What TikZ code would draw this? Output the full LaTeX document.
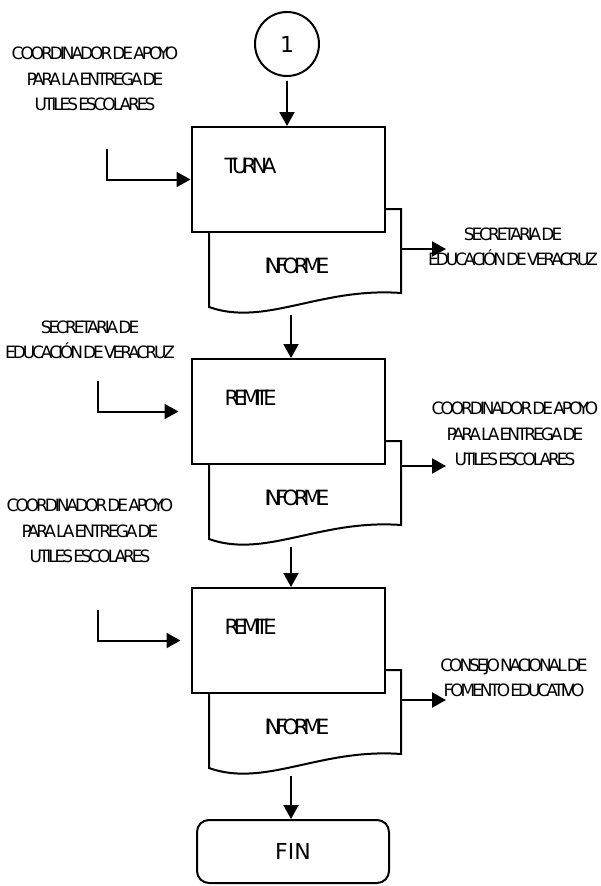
\documentclass[tikz,border=0pt]{standalone}
\usepackage{fontspec}
\setmainfont{DejaVu Sans}
\newfontfamily\tightfont[LetterSpace=-18, WordSpace=0.05]{DejaVu Sans}
\newfontfamily\boxfont[LetterSpace=-25]{DejaVu Sans}
\usetikzlibrary{arrows.meta}

\begin{document}
\begin{tikzpicture}[x=1pt, y=-1pt, line join=miter,
    flow/.style={line width=2pt, -{Triangle[length=14pt, width=15pt]}},
    stage/.style={draw, line width=2pt, fill=white, minimum width=193pt, minimum height=105pt},
    paper/.style={draw, line width=2pt, fill=white},
    steptext/.style={font=\boxfont\fontsize{21}{25}\selectfont, anchor=west},
    who/.style={font=\tightfont\fontsize{17}{25.5}\selectfont, align=center}
]

    % --- Page frame ---
    \useasboundingbox (0,0) rectangle (600,886);

    % --- Connector 1 ---
    \node[draw, circle, line width=2pt, minimum size=64pt,
          font=\fontsize{22}{26}\selectfont] (conn) at (287,44) {1};

    % --- Stages: document behind, step box on top ---
    \foreach \n/\t/\w/\o/\ix/\g in {
        1/127/TURNA/249/107/0,
        2/359/REMITE/466/98/12,
        3/588/REMITE/700/98/10%
    } {%
        \draw[paper] (209,{\t+82}) -- (209,{\t+180})
            .. controls (265,{\t+200}) and (320,{\t+160}) .. (401,{\t+166})
            -- (401,{\t+82}) -- cycle;
        \node[stage] (box\n) at (288,{\t+52.5}) {};
        \node[steptext] (step\n) at (221,{\t+39}) {\w};
        \node[font=\boxfont\fontsize{21}{25}\selectfont] (doc\n) at (297,{\t+139}) {INFORME};
        \coordinate (docb\n) at (291,{\t+188});
        \coordinate (in\n) at (\ix,{\t+22});
        \coordinate (out\n) at (401,\o);
        \coordinate (outend\n) at (446,\o);
        \draw[flow, shorten >=\g pt] (in\n) |- (box\n.west);
        \draw[flow] (out\n) -- (outend\n);
    }

    % --- End ---
    \node[draw, line width=2pt, rounded corners=12pt, minimum width=192pt, minimum height=63pt,
          font=\fontsize{22}{26}\selectfont] (fin) at (293,851.5) {FIN};

    % --- Main flow ---
    \draw[flow, shorten <=4pt] (conn.south) -- (conn.south |- box1.north);
    \draw[flow] (docb1) -- (docb1 |- box2.north);
    \draw[flow] (docb2) -- (docb2 |- box3.north);
    \draw[flow] (docb3) -- (docb3 |- fin.north);

    % --- Who sends / who receives ---
    \node[who] (from1) at (95,79) {COORDINADOR DE APOYO\\PARA LA ENTREGA DE\\UTILES ESCOLARES};
    \node[who] (to1) at (513,247) {SECRETARIA DE\\EDUCACIÓN DE VERACRUZ};
    \node[who] (from2) at (90,340) {SECRETARIA DE\\EDUCACIÓN DE VERACRUZ};
    \node[who] (to2) at (515,434) {COORDINADOR DE APOYO\\PARA LA ENTREGA DE\\UTILES ESCOLARES};
    \node[who] (from3) at (90,531) {COORDINADOR DE APOYO\\PARA LA ENTREGA DE\\UTILES ESCOLARES};
    \node[who] (to3) at (514,678) {CONSEJO NACIONAL DE\\FOMENTO EDUCATIVO};

\end{tikzpicture}
\end{document}
